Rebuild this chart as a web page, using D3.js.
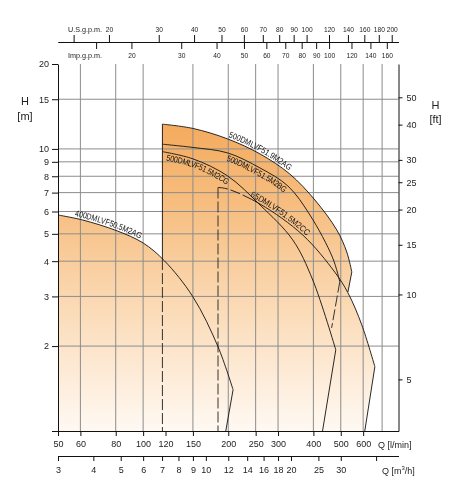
<!DOCTYPE html>
<html>
<head>
<meta charset="utf-8">
<script src="https://cdn.jsdelivr.net/npm/d3@7"></script>
<style>
  body { margin: 0; background: #fff; }
  svg text { font-family: "Liberation Sans", Arial, sans-serif; fill: #222; }
  .axis text { font-size: 9px; }
  .axis.top text { font-size: 8px; }
  .axis path, .axis line { stroke: #111; }
  .grid line { stroke: #8c8c8c; stroke-width: 1; }
  .curve { fill: none; stroke: #111; stroke-width: 0.9; }
  .limit { stroke: #333; stroke-width: 1; stroke-dasharray: 11,3; }
  .curve-label { font-size: 8.6px; fill: #111; }
</style>
</head>
<body>
<div id="chart"></div>
<script>
// Axis ticks
const qTicks = [50, 60, 80, 100, 120, 150, 200, 250, 300, 400, 500, 600]
const qGrid = [60, 80, 100, 150, 200, 250, 300, 400, 500, 600, 700]
const m3hTicks = [3, 4, 5, 6, 7, 8, 9, 10, 12, 14, 16, 18, 20, 25, 30, 40]
const usTicks = [15, 20, 30, 40, 50, 60, 70, 80, 90, 100, 120, 140, 160, 180, 200]
const impTicks = [15, 20, 30, 40, 50, 60, 70, 80, 90, 100, 120, 140, 160]
const hTicks = [1, 2, 3, 4, 5, 6, 7, 8, 9, 10, 15, 20]
const hGrid = [2, 3, 4, 5, 6, 7, 8, 9, 10, 15]
const ftTicks = [5, 10, 15, 20, 25, 30, 40, 50]

// Pump curves, Q [l/min] and H [m]
const pumpNames = ['500DMLVF51.9M2AG', '500DMLVF51.5M2BG', '500DMLVF51.5M2CG', '65DMLVF51.5M2CC', '400DMLVF50.5M2AG']
const qAG = [117, 150, 199, 259, 330, 405, 484, 525, 547]
const hAG = [12.24, 11.82, 10.85, 9.6, 8.15, 6.59, 5.16, 4.31, 3.66]
const qBG = [117, 150, 199, 259, 325, 389, 468, 496]
const hBG = [10.39, 10.12, 9.68, 8.56, 7.39, 5.83, 4.11, 3.38]
const qCG = [117, 150, 199, 259, 338, 398, 480]
const hCG = [9.78, 9.22, 8.02, 6.33, 4.76, 3.43, 1.94]
const qCC = [184, 199, 259, 367, 476, 530, 593, 660]
const hCC = [7.3, 7.21, 6.38, 4.95, 3.66, 3.09, 2.38, 1.69]
const q50AG = [50, 61, 81, 100, 119, 150, 184, 208]
const h50AG = [5.83, 5.6, 5.12, 4.64, 4.01, 2.99, 1.99, 1.4]
// straight end line of each curve
const tailQ = [530, 464, 431, 608, 196]
const tailH = [3.11, 2.32, 1, 1, 1]
const tailDashed = [false, true, false, false, false]
// minimum flow limits
const limitQ = [117, 184]
const limitH = [4.07, 7.3]
// where the name starts along the curve
const labelQ = [199, 201, 122, 237, 57]
const labelBelow = [false, true, true, false, false]

const width = 460
const height = 487

const x = d3.scaleLog().domain([50, 800]).range([58, 398.5])
const y = d3.scaleLog().domain([1, 20]).range([431, 64])
const xM3h = d3.scaleLog().domain([3, 48]).range(x.range())
const xUs = d3.scaleLog().domain([50 / 3.78541, 800 / 3.78541]).range(x.range())
const xImp = d3.scaleLog().domain([50 / 4.54609, 800 / 4.54609]).range(x.range())
const yFt = d3.scaleLog().domain([3.28084, 20 * 3.28084]).range(y.range())

const pumps = [
    { q: qAG, h: hAG }, { q: qBG, h: hBG }, { q: qCG, h: hCG }, { q: qCC, h: hCC }, { q: q50AG, h: h50AG }
].map((p, i) => ({
    name: pumpNames[i],
    pts: p.q.map((q, j) => [q, p.h[j]]),
    tail: [tailQ[i], tailH[i]],
    dashed: tailDashed[i],
    labelQ: labelQ[i],
    below: labelBelow[i]
}))

const svg = d3.select('#chart').append('svg')
    .attr('width', width)
    .attr('height', height)

const defs = svg.append('defs')
const grad = defs.append('linearGradient')
    .attr('id', 'fillGrad')
    .attr('gradientUnits', 'userSpaceOnUse')
    .attr('x1', 0).attr('x2', 0)
    .attr('y1', y(12.5)).attr('y2', y(1))
grad.selectAll('stop')
    .data([[0, '#f4aa5c'], [0.3, '#f7c084'], [0.62, '#fbdcb9'], [1, '#fff9f3']])
    .enter().append('stop')
    .attr('offset', d => d[0])
    .attr('stop-color', d => d[1])
// keeps small text grey (no coloured fringes)
defs.append('filter').attr('id', 'grey')
    .append('feColorMatrix').attr('type', 'saturate').attr('values', 0)

const line = d3.line()
    .x(d => x(d[0]))
    .y(d => y(d[1]))
    .curve(d3.curveCatmullRom.alpha(0.5))
const pt = d => x(d[0]) + ',' + y(d[1])
const cont = pts => 'L' + line(pts).slice(1)

// Filled ranges (same gradient, overlaps merge)
const [pAG, pBG, pCG, pCC, p50] = pumps
const fills = [
    'M' + pt([qAG[0], 1]) + cont(pAG.pts) + 'L' + pt(pAG.tail) + 'L' + pt([pAG.tail[0], 1]) + 'Z',
    'M' + pt([qCC[0], 1]) + cont(pCC.pts) + 'L' + pt(pCC.tail) + 'Z',
    'M' + pt([q50AG[0], 1]) + cont(p50.pts) + 'L' + pt(p50.tail) + 'Z'
]
svg.append('g').selectAll('path')
    .data(fills)
    .enter().append('path')
    .attr('d', d => d)
    .attr('fill', 'url(#fillGrad)')

// Grid
const grid = svg.append('g').attr('class', 'grid')
grid.selectAll('.v').data(qGrid).enter().append('line')
    .attr('x1', d => x(d)).attr('x2', d => x(d))
    .attr('y1', y(1)).attr('y2', y(20))
grid.selectAll('.h').data(hGrid).enter().append('line')
    .attr('x1', x(50)).attr('x2', x(800))
    .attr('y1', d => y(d)).attr('y2', d => y(d))

// Minimum flow limits
svg.append('line')
    .attr('class', 'curve')
    .attr('x1', x(limitQ[0])).attr('x2', x(limitQ[0]))
    .attr('y1', y(hAG[0])).attr('y2', y(limitH[0]))
svg.selectAll('.limit').data(limitQ).enter().append('line')
    .attr('class', 'limit')
    .attr('x1', d => x(d)).attr('x2', d => x(d))
    .attr('y1', (d, i) => y(limitH[i])).attr('y2', y(1))

// Curves
const curves = svg.append('g')
curves.selectAll('path.main').data(pumps).enter().append('path')
    .attr('class', 'curve main')
    .attr('id', (d, i) => 'curve' + i)
    .attr('d', d => line(d.pts))
    .attr('stroke-dasharray', (d, i) => i === 3 ? '10,3,10,3,9999' : null)
curves.selectAll('line.tail').data(pumps).enter().append('line')
    .attr('class', d => d.dashed ? 'limit tail' : 'curve tail')
    .attr('x1', d => x(d.pts[d.pts.length - 1][0])).attr('y1', d => y(d.pts[d.pts.length - 1][1]))
    .attr('x2', d => x(d.tail[0])).attr('y2', d => y(d.tail[1]))

// Curve names along the curves
const labels = svg.append('g').attr('filter', 'url(#grey)')
pumps.forEach((p, i) => {
    const node = document.getElementById('curve' + i)
    const target = x(p.labelQ)
    let lo = 0, hi = node.getTotalLength()
    for (let k = 0; k < 30; k++) {
        const mid = (lo + hi) / 2
        if (node.getPointAtLength(mid).x < target) lo = mid; else hi = mid
    }
    labels.append('text')
        .attr('class', 'curve-label')
        .attr('dy', p.below ? 8 : -2)
        .append('textPath')
        .attr('href', '#curve' + i)
        .attr('startOffset', lo)
        .attr('textLength', 69)
        .attr('lengthAdjust', 'spacingAndGlyphs')
        .text(p.name)
})

// Axes
const axes = svg.append('g').attr('filter', 'url(#grey)')
axes.append('g').attr('class', 'axis')
    .attr('transform', 'translate(' + x(50) + ',0)')
    .call(d3.axisLeft(y).tickValues(hTicks).tickFormat(d => d === 1 ? '' : d)
        .tickSize(6).tickPadding(3).tickSizeOuter(0))
axes.append('g').attr('class', 'axis')
    .attr('transform', 'translate(' + x(800) + ',0)')
    .call(d3.axisRight(yFt).tickValues(ftTicks).tickSize(4).tickPadding(4).tickSizeOuter(0))
axes.append('g').attr('class', 'axis')
    .attr('transform', 'translate(0,' + y(1) + ')')
    .call(d3.axisBottom(x).tickValues(qTicks).tickFormat(d3.format('d'))
        .tickSize(5).tickPadding(5).tickSizeOuter(0))
axes.append('g').attr('class', 'axis')
    .attr('transform', 'translate(0,456)')
    .call(d3.axisBottom(xM3h).tickValues(m3hTicks).tickFormat(d => d === 40 ? '' : d)
        .tickSize(5).tickPadding(6).tickSizeOuter(0))
axes.append('g').attr('class', 'axis top')
    .attr('transform', 'translate(0,42)')
    .call(d3.axisTop(xUs).tickValues(usTicks).tickFormat(d => d === 15 ? '' : d)
        .tickSize(7).tickPadding(3).tickSizeOuter(0))
axes.append('g').attr('class', 'axis top')
    .attr('transform', 'translate(0,42)')
    .call(d3.axisBottom(xImp).tickValues(impTicks).tickFormat(d => d === 15 ? '' : d)
        .tickSize(7).tickPadding(3).tickSizeOuter(0))
// narrow the crowded gpm labels
axes.selectAll('.axis.top text')
    .filter(function () { return this.textContent.length > 0 })
    .attr('textLength', function () { return this.textContent.length * 3.7 })
    .attr('lengthAdjust', 'spacingAndGlyphs')

// Axis titles
axes.append('text').attr('x', 68).attr('y', 32).attr('font-size', '7.5px')
    .attr('textLength', 34).attr('lengthAdjust', 'spacingAndGlyphs').text('U.S.g.p.m.')
axes.append('text').attr('x', 68).attr('y', 58).attr('font-size', '7.5px')
    .attr('textLength', 34).attr('lengthAdjust', 'spacingAndGlyphs').text('Imp.g.p.m.')
axes.append('text').attr('x', 378).attr('y', 447.5).attr('font-size', '9px').text('Q [l/min]')
const qm3 = axes.append('text').attr('x', 382).attr('y', 473.5).attr('font-size', '9px')
qm3.append('tspan').text('Q [m')
qm3.append('tspan').attr('dy', -4).attr('font-size', '6px').text('3')
qm3.append('tspan').attr('dy', 4).text('/h]')

const titles = [[25, 105, 'H'], [25, 119.5, '[m]'], [435.5, 109, 'H'], [435.5, 123, '[ft]']]
axes.selectAll('.title').data(titles).enter().append('text')
    .attr('x', d => d[0]).attr('y', d => d[1])
    .attr('text-anchor', 'middle')
    .attr('font-size', '11px')
    .attr('fill', '#333')
    .text(d => d[2])
</script>
</body>
</html>
